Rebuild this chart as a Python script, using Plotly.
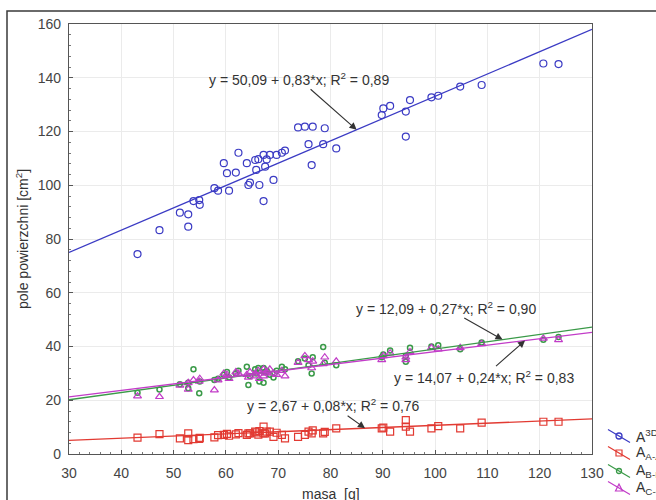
import plotly.graph_objects as go

# ---------------- data ----------------
masa = [43.1, 47.3, 51.2, 52.8, 52.8, 53.8, 54.9, 55.0, 57.8, 58.5, 59.6, 60.2, 60.6,
        61.9, 62.4, 64.0, 64.3, 64.6, 65.6, 65.8, 66.2, 66.4, 67.2, 67.2, 67.5, 67.8,
        68.4, 69.1, 69.7, 70.7, 71.3, 73.8, 75.1, 75.8, 76.4, 76.6, 78.6, 78.9, 81.1,
        89.8, 90.1, 91.4, 94.4, 94.4, 95.2, 99.3, 100.6, 104.8, 108.9, 120.7, 123.6]

a3d = [74.4, 83.3, 89.8, 89.2, 84.6, 94.1, 94.5, 92.7, 98.9, 98.0, 108.2, 104.5, 98.0,
       104.7, 112.1, 108.2, 100.1, 101.0, 109.4, 105.7, 109.7, 100.1, 111.3, 94.1, 106.9,
       109.6, 111.3, 102.0, 111.3, 112.1, 112.9, 121.5, 121.8, 115.3, 107.5, 121.8, 115.3,
       121.2, 113.7, 126.1, 128.6, 129.5, 127.4, 118.1, 131.7, 132.7, 133.3, 136.7, 137.3,
       145.3, 145.1]

a_a = [6.1, 7.4, 5.8, 7.7, 5.2, 5.5, 5.6, 6.0, 6.2, 7.0, 7.1, 7.5, 6.8, 7.3, 7.8, 7.1,
       7.7, 7.7, 8.3, 8.0, 7.2, 8.5, 10.2, 7.7, 7.7, 8.3, 8.3, 6.4, 7.9, 7.1, 5.8, 6.4,
       7.1, 8.3, 7.7, 8.8, 7.7, 8.2, 9.5, 9.5, 9.8, 8.3, 12.6, 10.2, 8.3, 9.5, 10.4, 9.5,
       11.7, 12.0, 12.0]

a_b = [22.8, 24.0, 26.0, 26.5, 24.5, 31.5, 22.6, 27.0, 27.5, 28.0, 29.5, 30.5, 28.5,
       30.0, 31.0, 32.5, 25.7, 29.0, 31.5, 30.0, 32.0, 27.0, 32.0, 26.5, 30.5, 31.0,
       29.5, 28.5, 31.0, 32.5, 31.5, 34.5, 35.5, 33.0, 30.0, 36.0, 39.8, 34.0, 33.0,
       36.0, 37.0, 38.5, 34.3, 36.5, 39.5, 40.0, 40.5, 39.0, 41.5, 42.5, 43.5]

a_c = [21.5, 21.3, 25.5, 24.0, 26.5, 27.5, 27.0, 28.0, 23.8, 27.5, 30.0, 29.5, 28.0,
       30.5, 30.0, 29.5, 28.5, 30.5, 30.0, 29.0, 31.0, 28.0, 31.5, 29.0, 30.0, 30.5,
       31.5, 30.0, 29.5, 31.0, 29.0, 34.0, 36.5, 35.0, 32.0, 34.5, 33.5, 36.0, 34.5,
       35.0, 36.5, 37.5, 36.0, 35.0, 38.0, 39.5, 39.0, 39.5, 41.0, 43.0, 42.5]

# regression coefficients (intercept, slope) printed on the chart
fit_3d = (50.09, 0.83)
fit_a = (2.67, 0.08)
fit_b = (12.09, 0.27)
fit_c = (14.07, 0.24)
fit_x = [30, 130]

labels_eq = ["y = 50,09 + 0,83*x; R<sup>2</sup> = 0,89",
             "y = 12,09 + 0,27*x; R<sup>2</sup> = 0,90",
             "y = 14,07 + 0,24*x; R<sup>2</sup> = 0,83",
             "y = 2,67 + 0,08*x; R<sup>2</sup> = 0,76"]
legend_names = ["A<sup>3D</sup>", "A<sub>A-A</sub>", "A<sub>B-B</sub>", "A<sub>C-C</sub>"]

# ---------------- style ----------------
C_BLUE = "#3b3bc4"
C_RED = "#e23a32"
C_GREEN = "#3a9a48"
C_MAG = "#c23cc8"
FONT = "Liberation Sans, Arial, sans-serif"
TXT = "#333333"

W, H = 656, 500
L, R, T, B = 69, 64, 24, 46
PW, PH = W - L - R, H - T - B


def px(x):
    return (x - L) / PW


def py(y):
    return (H - B - y) / PH


def line_y(fit):
    return [fit[0] + fit[1] * v for v in fit_x]


fig = go.Figure()

series = [
    (a_a, fit_a, C_RED, "square-open", 7, 1.2),
    (a_b, fit_b, C_GREEN, "circle-open", 5, 1.5),
    (a_c, fit_c, C_MAG, "triangle-up-open", 7, 1.2),
    (a3d, fit_3d, C_BLUE, "circle-open", 7, 1.2),
]
for ys, fit, col, sym, size, lw in series:
    fig.add_trace(go.Scatter(x=masa, y=ys, mode="markers",
                             marker=dict(symbol=sym, size=size, color=col,
                                         line=dict(color=col, width=lw)),
                             showlegend=False, hoverinfo="skip"))
for ys, fit, col, sym, size, lw in series:
    fig.add_trace(go.Scatter(x=fit_x, y=line_y(fit), mode="lines",
                             line=dict(color=col, width=1.3),
                             showlegend=False, hoverinfo="skip"))

# equation annotations: (tip x, fit, text, ax, ay)
ann_specs = [
    (85.0, fit_3d, labels_eq[0], -58, -51),
    (112.9, fit_b, labels_eq[1], -57, -32),
    (117.2, fit_c, labels_eq[2], -41, 36),
    (86.6, fit_a, labels_eq[3], -32, -23),
]
annotations = []
for xt, fit, text, ax, ay in ann_specs:
    annotations.append(dict(x=xt, y=fit[0] + fit[1] * xt, xref="x", yref="y",
                            text=text, showarrow=True, ax=ax, ay=ay,
                            arrowhead=2, arrowsize=1.3, arrowwidth=1.1,
                            arrowcolor="#333333",
                            font=dict(family=FONT, size=14, color=TXT)))

# axis titles
annotations.append(dict(x=px(22), y=0.5, xref="paper", yref="paper",
                        text="pole powierzchni [cm<sup>2</sup>]", textangle=-90,
                        showarrow=False, xanchor="center", yanchor="middle",
                        font=dict(family=FONT, size=14, color=TXT)))
annotations.append(dict(x=0.5, y=py(494), xref="paper", yref="paper",
                        text="masa  [g]", showarrow=False, xanchor="center",
                        yanchor="middle", font=dict(family=FONT, size=14, color=TXT)))

# manual legend (diagonal symbols)
shapes = []
leg_cols = [C_BLUE, C_RED, C_GREEN, C_MAG]
leg_y = [436, 453, 471, 488]
for i, (name, col, yc) in enumerate(zip(legend_names, leg_cols, leg_y)):
    shapes.append(dict(type="line", xref="paper", yref="paper",
                       x0=px(608), y0=py(yc - 6.5), x1=px(630), y1=py(yc + 6.5),
                       line=dict(color=col, width=1.3)))
    cx, cy = 619, yc
    if i == 1:
        shapes.append(dict(type="rect", xref="paper", yref="paper",
                           x0=px(cx - 3), x1=px(cx + 3), y0=py(cy + 3), y1=py(cy - 3),
                           line=dict(color=col, width=1.2)))
    elif i == 3:
        path = "M {} {} L {} {} L {} {} Z".format(px(cx), py(cy - 4), px(cx - 3.5),
                                                  py(cy + 3), px(cx + 3.5), py(cy + 3))
        shapes.append(dict(type="path", xref="paper", yref="paper", path=path,
                           line=dict(color=col, width=1.2)))
    else:
        r = 3 if i == 0 else 2.5
        shapes.append(dict(type="circle", xref="paper", yref="paper",
                           x0=px(cx - r), x1=px(cx + r), y0=py(cy + r), y1=py(cy - r),
                           line=dict(color=col, width=1.3)))
    annotations.append(dict(x=px(634), y=py(yc), xref="paper", yref="paper",
                            text=name, showarrow=False, xanchor="left",
                            yanchor="middle",
                            font=dict(family=FONT, size=14, color=TXT)))

# outer frame (cut by the image edges)
shapes.append(dict(type="rect", xref="paper", yref="paper", layer="above",
                   x0=px(7), x1=px(664), y0=py(508), y1=py(11),
                   line=dict(color="#3a3a3a", width=1.5)))

fig.update_layout(
    width=W, height=H,
    margin=dict(l=L, r=R, t=T, b=B, pad=0),
    paper_bgcolor="white", plot_bgcolor="white",
    showlegend=False,
    annotations=annotations, shapes=shapes,
    font=dict(family=FONT, size=14, color=TXT),
)
axis_common = dict(showline=True, mirror=True, linecolor="#555555", linewidth=1.2,
                   showgrid=True, gridcolor="#ebebeb", gridwidth=1, zeroline=False,
                   ticks="inside", ticklen=4, tickcolor="#555555",
                   tickfont=dict(family=FONT, size=14, color="#444444"),
                   automargin=False,
                   minor=dict(ticks="inside", ticklen=2, tickcolor="#777777",
                              showgrid=False))
fig.update_xaxes(range=[30, 130], dtick=10, tick0=30, ticklabelstandoff=6,
                 **axis_common)
fig.update_xaxes(minor_dtick=2)
fig.update_yaxes(range=[0, 160], dtick=20, tick0=0, ticklabelstandoff=4,
                 **axis_common)
fig.update_yaxes(minor_dtick=4)

fig.write_html("out.html")
